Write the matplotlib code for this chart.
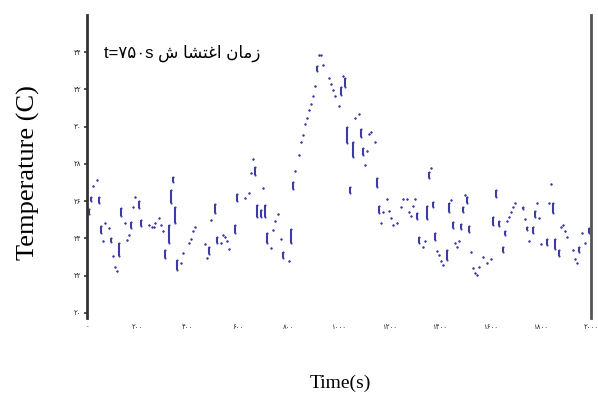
import numpy as np
import matplotlib
matplotlib.use("Agg")
import matplotlib.pyplot as plt

# sampled temperature record: time (s), upper and lower reading of each sample
time_s = [7, 15, 23, 39, 46, 56, 64, 71, 87, 95, 103, 111, 119, 127, 135, 151, 159, 167, 175, 183,
          191, 206, 214, 246, 257, 265, 270, 285, 294, 302, 308, 325, 332, 340, 348, 356, 372, 380, 405, 413,
          421, 429, 468, 476, 484, 492, 508, 516, 532, 541, 548, 556, 564, 587, 594, 626, 642, 650, 658, 665,
          673, 689, 697, 705, 713, 729, 737, 746, 757, 769, 777, 800, 808, 816, 824, 840, 848, 856, 864, 872,
          880, 888, 896, 904, 911, 919, 930, 936, 959, 967, 975, 983, 999, 1007, 1015, 1022, 1031, 1044, 1054, 1062,
          1078, 1086, 1094, 1102, 1110, 1118, 1126, 1142, 1150, 1157, 1165, 1173, 1189, 1197, 1205, 1213, 1229, 1245, 1253, 1269,
          1277, 1285, 1292, 1300, 1308, 1316, 1332, 1340, 1348, 1357, 1365, 1373, 1381, 1389, 1397, 1405, 1413, 1429, 1436, 1444,
          1452, 1460, 1468, 1476, 1484, 1492, 1500, 1508, 1516, 1524, 1532, 1540, 1548, 1555, 1571, 1587, 1603, 1611, 1622, 1635,
          1651, 1659, 1667, 1675, 1682, 1689, 1698, 1730, 1738, 1746, 1754, 1770, 1778, 1786, 1794, 1802, 1825, 1833, 1841, 1849,
          1857, 1873, 1881, 1889, 1897, 1905, 1928, 1936, 1944, 1952, 1964, 1976, 1992]
temp_hi = [25.57, 26.22, 26.81, 27.12, 26.22, 24.66, 23.88, 24.83, 24.57, 24.02, 23.06, 22.47, 22.25, 23.75, 25.63, 24.83, 23.91, 24.18, 24.88, 25.68,
           26.22, 26.01, 24.99, 24.72, 24.63, 24.61, 24.84, 25.08, 24.72, 24.41, 23.38, 24.72, 26.60, 27.29, 25.68, 22.84, 22.70, 23.22, 23.77, 23.97,
           24.40, 24.61, 23.70, 22.95, 23.54, 24.99, 25.84, 24.08, 23.77, 24.18, 24.08, 23.88, 23.43, 24.72, 26.38, 26.15, 26.42, 27.49, 28.29, 27.83,
           25.79, 25.52, 26.69, 25.79, 24.29, 23.47, 24.45, 24.95, 25.29, 23.97, 23.27, 22.80, 24.50, 27.02, 27.61, 28.47, 29.17, 29.56, 30.13, 30.47,
           30.90, 31.24, 31.67, 32.17, 33.24, 33.83, 33.83, 33.30, 32.64, 32.32, 31.99, 31.67, 31.12, 32.12, 32.72, 32.60, 29.97, 26.76, 29.17, 30.47,
           30.71, 29.87, 28.85, 27.97, 28.69, 29.60, 29.71, 29.17, 27.24, 25.74, 24.84, 25.43, 26.10, 25.49, 25.08, 24.72, 24.84, 25.70, 26.13, 26.13,
           25.43, 25.20, 25.74, 26.13, 25.36, 24.08, 23.52, 23.86, 25.74, 27.56, 27.76, 25.95, 24.29, 23.34, 23.09, 22.79, 22.56, 23.38, 25.90, 26.04,
           24.88, 23.74, 23.55, 23.88, 24.77, 25.68, 26.36, 26.22, 24.66, 23.29, 22.41, 22.13, 22.04, 22.45, 22.99, 22.66, 22.90, 25.15, 26.60, 24.93,
           23.54, 24.40, 24.93, 25.16, 25.43, 25.70, 25.93, 25.68, 25.04, 24.61, 23.88, 24.61, 25.47, 25.91, 25.11, 23.70, 23.97, 25.88, 26.90, 25.90,
           23.97, 23.38, 24.60, 24.72, 24.40, 24.09, 23.38, 22.88, 22.70, 23.54, 24.29, 23.77, 24.56]
temp_lo = [25.30, 26.01, 26.81, 27.12, 25.90, 24.29, 23.88, 24.83, 24.57, 23.81, 23.06, 22.47, 22.25, 23.06, 25.20, 24.83, 23.91, 24.18, 24.56, 25.68,
           26.22, 25.63, 24.66, 24.72, 24.63, 24.61, 24.84, 25.08, 24.72, 24.41, 22.95, 23.75, 25.90, 27.02, 24.83, 22.31, 22.70, 23.22, 23.77, 23.97,
           24.40, 24.61, 23.70, 22.95, 23.16, 24.99, 25.36, 23.75, 23.77, 24.18, 24.08, 23.88, 23.43, 24.29, 26.01, 26.15, 26.42, 27.49, 28.29, 27.40,
           25.15, 25.15, 26.69, 25.15, 23.75, 23.47, 24.45, 24.95, 25.29, 23.97, 22.95, 22.80, 23.75, 26.65, 27.61, 28.47, 29.17, 29.56, 30.13, 30.47,
           30.90, 31.24, 31.67, 32.17, 32.98, 33.83, 33.83, 33.30, 32.64, 32.32, 31.99, 31.67, 31.12, 31.69, 32.72, 32.12, 29.12, 26.43, 28.36, 30.47,
           30.71, 29.44, 28.47, 27.97, 28.69, 29.60, 29.71, 29.17, 26.76, 25.36, 24.84, 25.43, 26.10, 25.49, 25.08, 24.72, 24.84, 25.70, 26.13, 26.13,
           25.43, 25.20, 25.74, 26.13, 25.04, 23.75, 23.52, 23.86, 25.04, 27.24, 27.76, 25.68, 23.91, 23.34, 23.09, 22.79, 22.56, 22.84, 25.42, 26.04,
           24.56, 23.74, 23.55, 23.88, 24.50, 25.42, 26.36, 25.90, 24.34, 23.29, 22.41, 22.13, 22.04, 22.45, 22.99, 22.66, 22.90, 24.72, 26.22, 24.66,
           23.27, 24.18, 24.93, 25.16, 25.43, 25.70, 25.93, 25.58, 25.04, 24.45, 23.88, 24.29, 25.15, 25.91, 25.11, 23.70, 23.65, 25.88, 26.90, 25.36,
           23.43, 23.06, 24.60, 24.72, 24.40, 24.09, 23.38, 22.88, 22.70, 23.27, 24.29, 23.77, 24.29]

x_ticks = [0, 200, 400, 600, 800, 1000, 1200, 1400, 1600, 1800, 2000]
y_ticks = [20, 22, 24, 26, 28, 30, 32, 34]

fa_digits = str.maketrans("0123456789", "۰۱۲۳۴۵۶۷۸۹")

def fa(n):
    return str(n).translate(fa_digits)

t = np.array(time_s)
hi = np.array(temp_hi)
lo = np.array(temp_lo)

fig = plt.figure(figsize=(5.98, 3.94), dpi=100)
ax = fig.add_axes([87 / 598, 1 - 318 / 394, 504 / 598, 303 / 394])

col = "#3c3ca4"
ax.vlines(t, lo, hi, colors=col, linewidth=1.5)
ax.scatter(t, hi, s=2.3, color=col, linewidths=0)
ax.scatter(t, lo, s=2.3, color=col, linewidths=0)

ax.set_xlim(0, 2000)
ax.set_ylim(19.73, 36)

ax.spines["top"].set_visible(False)
ax.spines["bottom"].set_visible(False)
ax.spines["left"].set_color("#333333")
ax.spines["left"].set_linewidth(2)
ax.spines["right"].set_color("#555555")
ax.spines["right"].set_linewidth(2)

ax.set_xticks(x_ticks)
ax.set_xticklabels([fa(v) for v in x_ticks], fontsize=5, family="DejaVu Sans", color="#222222")
ax.set_yticks(y_ticks)
ax.set_yticklabels([fa(v) for v in y_ticks], fontsize=5, family="DejaVu Sans", color="#222222")
ax.tick_params(axis="x", length=0, pad=4)
ax.tick_params(axis="y", length=2, width=1.2, pad=2, color="#333333")

fig.text(28 / 598, 1 - 173 / 394, "Temperature (C)", family="Liberation Serif", fontsize=19,
         rotation=90, ha="center", va="center")
fig.text(340 / 598, 1 - 383 / 394, "Time(s)", family="Liberation Serif", fontsize=14,
         ha="center", va="center")

# "زمان اغتشا ش" written in shaped visual order so it reads right to left
note = "t=" + fa(750) + "s \uFEB5 \uFE8E\uFEB8\uFE98\uFECF\uFE8D \uFEE5\uFE8E\uFEE3\uFEAF"
ax.text(104 / 598, 1 - 53 / 394, note, transform=fig.transFigure,
        family=["Liberation Sans", "DejaVu Sans"], fontsize=12, ha="left", va="center")

fig.savefig("out.png", dpi=100)
